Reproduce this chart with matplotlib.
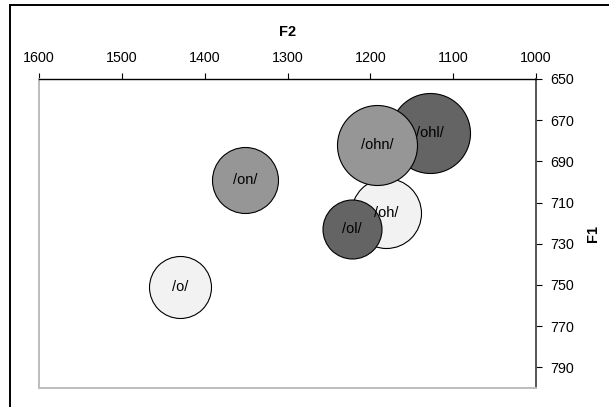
import matplotlib
matplotlib.use('Agg')
import matplotlib.pyplot as plt
from matplotlib.lines import Line2D

plt.rcParams['font.family'] = ['Liberation Sans', 'DejaVu Sans']

# vowel bubbles: F2 (x), F1 (y), relative size (drawn in this order)
labels = ['/o/', '/on/', '/oh/', '/ohl/', '/ohn/', '/ol/']
f2 = [1430, 1351, 1181, 1128, 1192, 1222]
f1 = [751, 699, 715, 676, 682, 723]
sizes = [31, 33, 35, 40, 40, 29.5]
colors = ['#f2f2f2', '#969696', '#f2f2f2', '#646464', '#969696', '#646464']

x_ticks = [1600, 1500, 1400, 1300, 1200, 1100, 1000]
y_ticks = [650, 670, 690, 710, 730, 750, 770, 790]

W, H = 609, 407
fig = plt.figure(figsize=(W / 100, H / 100), dpi=100)
ax = fig.add_axes([39 / W, (H - 388) / H, 497 / W, 309 / H])

# outer frame (only left and top edges show in the crop)
fig.add_artist(Line2D([9.5 / W, 9.5 / W], [0, 1 - 5 / H], color='black', lw=1.4,
                      transform=fig.transFigure))
fig.add_artist(Line2D([9.5 / W, 1], [1 - 5 / H, 1 - 5 / H], color='black', lw=1.4,
                      transform=fig.transFigure))

for x, y, s, c, lab in zip(f2, f1, sizes, colors, labels):
    ax.scatter([x], [y], s=(2 * s * 0.72) ** 2, color=c, edgecolor='black',
               linewidth=0.8, zorder=3)
    ax.text(x, y, lab, ha='center', va='center', fontsize=10.5, color='black', zorder=4)

ax.set_xlim(1600, 1000)
ax.set_ylim(800, 650)
ax.set_xticks(x_ticks)
ax.set_yticks(y_ticks)

ax.xaxis.tick_top()
ax.xaxis.set_label_position('top')
ax.yaxis.tick_right()
ax.yaxis.set_label_position('right')
ax.tick_params(axis='both', direction='out', length=4.5, width=0.8,
               labelsize=10.3, colors='black')
ax.tick_params(axis='x', pad=5.5)
ax.tick_params(axis='y', pad=6)

ax.set_xlabel('F2', fontsize=10.5, fontweight='bold', labelpad=11)
ax.set_ylabel('F1', fontsize=10.5, fontweight='bold', labelpad=8)

ax.spines['top'].set_color('black')
ax.spines['top'].set_linewidth(1)
ax.spines['right'].set_color('#555555')
ax.spines['right'].set_linewidth(1.4)
ax.spines['left'].set_color('#bdbdbd')
ax.spines['left'].set_linewidth(1.4)
ax.spines['bottom'].set_color('#bdbdbd')
ax.spines['bottom'].set_linewidth(1.4)

fig.savefig('out.png', dpi=100)
